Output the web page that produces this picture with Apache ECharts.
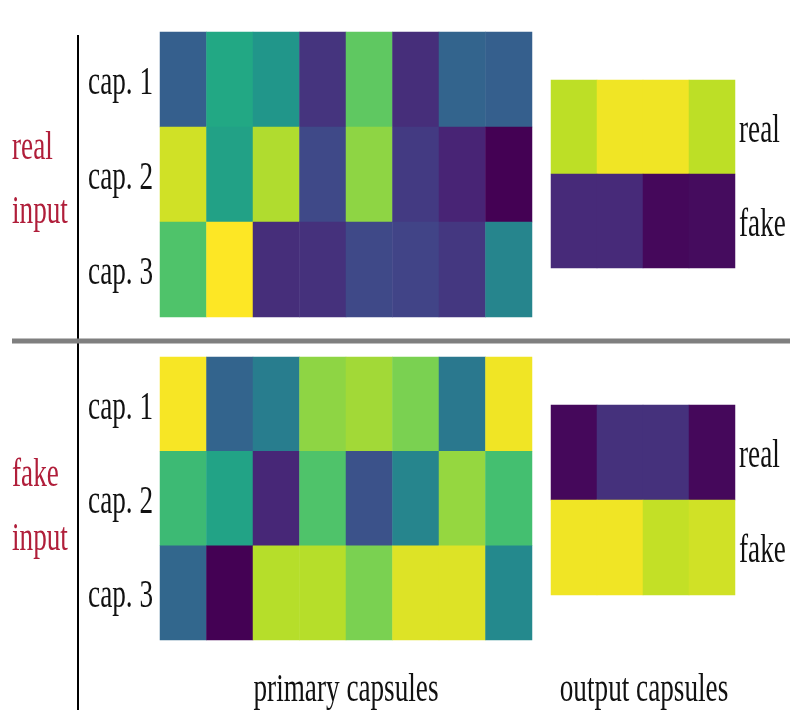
<!DOCTYPE html>
<html>
<head>
<meta charset="utf-8">
<script src="https://cdn.jsdelivr.net/npm/echarts@6/dist/echarts.min.js"></script>
<style>
  html, body { margin: 0; padding: 0; background: #fff; }
  #capsule-chart { width: 790px; height: 720px; }
</style>
</head>
<body>
<div id="capsule-chart"></div>
<script>
// column / row labels
var primaryCols = ['1', '2', '3', '4', '5', '6', '7', '8'];
var outputCols = ['1', '2', '3', '4'];
var capLabels = ['cap. 1', 'cap. 2', 'cap. 3'];
var outLabels = ['real', 'fake'];
var inputLabels = ['real\ninput', 'fake\ninput'];
var axisTitles = ['primary capsules', 'output capsules'];

// activations (0 = dark purple, 1 = yellow)
var primaryReal = [
    [0.30, 0.60, 0.52, 0.15, 0.75, 0.13, 0.32, 0.30],
    [0.93, 0.57, 0.88, 0.22, 0.83, 0.17, 0.10, 0.00],
    [0.72, 1.00, 0.13, 0.14, 0.22, 0.20, 0.16, 0.45]
];
var outputReal = [
    [0.90, 0.98, 0.98, 0.90],
    [0.12, 0.12, 0.02, 0.03]
];
var primaryFake = [
    [0.99, 0.32, 0.42, 0.83, 0.86, 0.80, 0.40, 0.98],
    [0.68, 0.58, 0.11, 0.72, 0.25, 0.45, 0.84, 0.70],
    [0.33, 0.00, 0.89, 0.89, 0.80, 0.95, 0.95, 0.47]
];
var outputFake = [
    [0.02, 0.14, 0.14, 0.02],
    [0.98, 0.98, 0.91, 0.93]
];

var viridis = ['#440154', '#482475', '#414487', '#355f8d', '#2a788e', '#21918c',
    '#22a884', '#44bf70', '#7ad151', '#bddf26', '#fde725'];

var serif = 'Liberation Serif';
var squeeze = 0.68;   // text in the figure is horizontally squeezed

function toCells(m) {
    var out = [];
    m.forEach(function (row, r) {
        row.forEach(function (v, c) { out.push([c, r, v]); });
    });
    return out;
}

var grids = [
    {left: 160, top: 32, width: 372, height: 285},
    {left: 551, top: 80, width: 184, height: 188},
    {left: 160, top: 357, width: 372, height: 283},
    {left: 551, top: 405, width: 184, height: 190}
];
var xCats = [primaryCols, outputCols, primaryCols, outputCols];
var yCats = [capLabels, outLabels, capLabels, outLabels];
var mats = [primaryReal, outputReal, primaryFake, outputFake];

var hidden = {show: false};
var option = {
    animation: false,
    backgroundColor: '#fff',
    grid: grids,
    xAxis: xCats.map(function (c, i) {
        return {type: 'category', gridIndex: i, data: c, axisLine: hidden, axisTick: hidden,
            axisLabel: hidden, splitLine: hidden, splitArea: hidden};
    }),
    yAxis: yCats.map(function (c, i) {
        return {type: 'category', gridIndex: i, data: c, inverse: true, axisLine: hidden,
            axisTick: hidden, axisLabel: hidden, splitLine: hidden, splitArea: hidden};
    }),
    visualMap: {
        show: false, type: 'continuous', min: 0, max: 1, dimension: 2,
        seriesIndex: [0, 1, 2, 3],
        inRange: {color: viridis}
    },
    series: mats.map(function (m, i) {
        return {
            type: 'heatmap', xAxisIndex: i, yAxisIndex: i, data: toCells(m),
            itemStyle: {borderWidth: 0}, emphasis: {disabled: true}
        };
    })
};

var chart = echarts.init(document.getElementById('capsule-chart'));
chart.setOption(option);

function label(text, x, y, align, color) {
    return {
        type: 'text', x: x, y: y, scaleX: squeeze, silent: true,
        style: {text: text, font: '40px "' + serif + '"', fill: color || '#111',
            align: align, verticalAlign: 'middle', lineHeight: 64}
    };
}

var g = [];
// divider lines
g.push({type: 'line', shape: {x1: 78, y1: 35, x2: 78, y2: 710}, style: {stroke: '#000', lineWidth: 2}});
g.push({type: 'line', shape: {x1: 12, y1: 341, x2: 790, y2: 341}, style: {stroke: '#7f7f7f', lineWidth: 5}});

// row labels on each heatmap
[0, 2].forEach(function (i) {
    capLabels.forEach(function (t) {
        var y = chart.convertToPixel({yAxisIndex: i}, t);
        g.push(label(t, 153, y + 4, 'right'));
    });
});
[1, 3].forEach(function (i) {
    outLabels.forEach(function (t) {
        var y = chart.convertToPixel({yAxisIndex: i}, t);
        g.push(label(t, 739, y + 4, 'left'));
    });
});

// input group titles
g.push(label(inputLabels[0], 12, 180, 'left', '#b01e3a'));
g.push(label(inputLabels[1], 12, 507, 'left', '#b01e3a'));

// bottom titles
g.push(label(axisTitles[0], 346, 690, 'center'));
g.push(label(axisTitles[1], 644, 690, 'center'));

chart.setOption({graphic: g});
</script>
</body>
</html>
